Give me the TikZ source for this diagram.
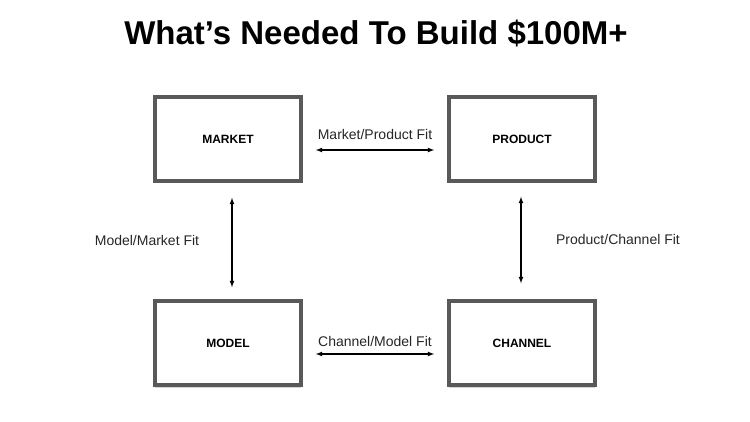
\documentclass[tikz,border=0pt]{standalone}
\usepackage{fontspec}
\setmainfont{Liberation Sans}
\usetikzlibrary{shadows}
\begin{document}
\begin{tikzpicture}[x=1pt,y=-1pt,
  box/.style={draw=black!65,line width=3.6pt,fill=white,minimum width=146pt,minimum height=84pt,font=\fontsize{12}{14}\selectfont\bfseries,drop shadow={shadow xshift=0pt,shadow yshift=-2.5pt,opacity=0.35}},
  lbl/.style={font=\fontsize{14}{16}\selectfont,text=black!85},
  arr/.style={<->,>=latex,line width=1.2pt}]
\useasboundingbox (0,0) rectangle (750,422);
\node[font=\fontsize{33}{37}\selectfont\bfseries] (title) at (376,33) {What’s Needed To Build \$100M+};
\node[box] (market) at (228,139) {MARKET};
\node[box] (product) at (522,139) {PRODUCT};
\node[box] (model) at (228,343) {MODEL};
\node[box] (channel) at (522,343) {CHANNEL};
\draw[arr] ([xshift=13pt,yshift=-11pt]market.east) -- ([xshift=-13pt,yshift=-11pt]product.west);
\draw[arr] ([xshift=13pt,yshift=-11pt]model.east) -- ([xshift=-13pt,yshift=-11pt]channel.west);
\draw[arr] ([xshift=4pt,yshift=-15pt]market.south) -- ([xshift=4pt,yshift=12pt]model.north);
\draw[arr] ([xshift=-1pt,yshift=-14pt]product.south) -- ([xshift=-1pt,yshift=16pt]channel.north);
\node[lbl] (l1) at (375,134) {Market/Product Fit};
\node[lbl] (l2) at (375,341) {Channel/Model Fit};
\node[lbl] (l3) at (147,240) {Model/Market Fit};
\node[lbl] (l4) at (618,239) {Product/Channel Fit};
\end{tikzpicture}
\end{document}
